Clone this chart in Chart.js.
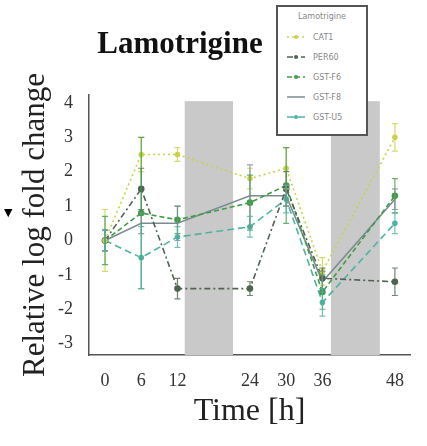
<!DOCTYPE html>
<html>
<head>
<meta charset="utf-8">
<script src="https://cdn.jsdelivr.net/npm/chart.js@4"></script>
<style>
body{margin:0;background:#fff;}
#wrap{position:relative;width:427px;height:446px;overflow:hidden;}
#title{position:absolute;left:0;width:360px;top:25px;text-align:center;font:bold 31px "Liberation Serif",serif;line-height:36px;color:#111;}
#arrow{position:absolute;left:4px;top:206px;font:11px "DejaVu Sans",sans-serif;color:#000;}
#legend{position:absolute;left:276px;top:5px;width:88px;height:127px;border:2px solid #555;background:#fff;font:8px "DejaVu Sans",sans-serif;color:#888;}
#legend .lt{text-align:center;margin-top:5px;margin-bottom:6px;}
#legend .row{height:20px;display:flex;align-items:center;padding-left:9px;}
#legend svg{margin-right:8px;}
</style>
</head>
<body>
<div id="wrap">
  <canvas id="chart" width="427" height="446"></canvas>
  <div id="title">Lamotrigine</div>
  <div id="arrow">▼</div>
  <div id="legend"><div class="lt">Lamotrigine</div></div>
</div>
<script>
// time points (h)
var hours = [0, 6, 12, 24, 30, 36, 48];
var yTicks = [-3, -2, -1, 0, 1, 2, 3, 4];

var genes = ['CAT1', 'PER60', 'GST-F6', 'GST-F8', 'GST-U5'];
var cat1 = [0, 2.5, 2.5, 1.8, 2.1, -0.9, 3.0];
var per = [0, 1.5, -1.4, -1.4, 1.5, -1.1, -1.2];
var gstF6 = [0, 0.8, 0.6, 1.1, 1.6, -1.5, 1.3];
var gstF8 = [0, 0.5, 0.5, 1.3, 1.3, -1.2, 1.2];
var gstU5 = [0, -0.5, 0.1, 0.4, 1.2, -1.8, 0.5];

var cat1Err = [0.9, 0.5, 0.2, 0.3, 0.6, 0.4, 0.4];
var perErr = [0.3, 0.6, 0.3, 0.2, 0.5, 0.3, 0.4];
var gstF6Err = [0.7, 2.2, 0.4, 0.8, 1.1, 0.5, 0.5];
var gstF8Err = [0.3, 0.3, 0.5, 0.9, 0.3, 0.3, 0.3];
var gstU5Err = [0.3, 0.9, 0.3, 0.3, 0.4, 0.4, 0.3];

// dark periods (h)
var darkStart = [13.2, 37.4];
var darkEnd = [21.2, 45.5];
var darkTop = 4.05;

var series = [cat1, per, gstF6, gstF8, gstU5];
var errs = [cat1Err, perErr, gstF6Err, gstF8Err, gstU5Err];
var colors = ['#c9d24a', '#4f6452', '#3f9e45', '#7d8b92', '#4fb3a3'];
var dashes = [[2, 3], [6, 3, 2, 3], [5, 3], [], [7, 4]];
var radius = [2, 2.5, 2.5, 0, 2];

var datasets = series.map(function(vals, i){
    return {
        label: genes[i],
        data: vals.map(function(v, j){ return {x: hours[j], y: v}; }),
        borderColor: colors[i],
        backgroundColor: colors[i],
        borderDash: dashes[i],
        borderWidth: 1.6,
        pointRadius: radius[i],
        pointStyle: 'circle',
        errors: errs[i]
    };
});

const shadePlugin = {
    id: 'shade',
    beforeDatasetsDraw(chart){
        const {ctx, chartArea, scales} = chart;
        ctx.save();
        ctx.fillStyle = '#c9c9c9';
        for (let k = 0; k < darkStart.length; k++){
            let x1 = scales.x.getPixelForValue(darkStart[k]);
            let x2 = scales.x.getPixelForValue(darkEnd[k]);
            let y1 = scales.y.getPixelForValue(darkTop);
            ctx.fillRect(x1, y1, x2 - x1, chartArea.bottom - y1);
        }
        ctx.restore();
    },
    afterDatasetsDraw(chart){ // error bars
        const {ctx, scales} = chart;
        ctx.save();
        chart.data.datasets.forEach(function(ds){
            ctx.strokeStyle = ds.borderColor;
            ctx.lineWidth = 1.2;
            ctx.globalAlpha = 0.8;
            ds.data.forEach(function(p, j){
                let e = ds.errors[j];
                let px = scales.x.getPixelForValue(p.x);
                let top = scales.y.getPixelForValue(p.y + e);
                let bot = scales.y.getPixelForValue(p.y - e);
                ctx.beginPath();
                ctx.moveTo(px, top); ctx.lineTo(px, bot);
                ctx.moveTo(px - 3, top); ctx.lineTo(px + 3, top);
                ctx.moveTo(px - 3, bot); ctx.lineTo(px + 3, bot);
                ctx.stroke();
            });
        });
        ctx.restore();
    }
};

const serif = '"Liberation Serif", "Times New Roman", serif';

new Chart(document.getElementById('chart').getContext('2d'), {
    type: 'line',
    data: {datasets: datasets},
    options: {
        responsive: false,
        animation: false,
        layout: {padding: {left: 17, right: 17, top: 95, bottom: 15}},
        plugins: {legend: {display: false}, tooltip: {enabled: false}},
        scales: {
            x: {
                type: 'linear',
                min: -2.65,
                max: 50.5,
                afterBuildTicks: function(s){ s.ticks = hours.map(function(v){ return {value: v}; }); },
                afterFit: function(s){ s.height = 76; },
                grid: {display: false, drawTicks: false},
                border: {display: true, color: '#555', width: 1.5},
                ticks: {padding: 15, color: '#333', font: {family: serif, size: 18}, maxRotation: 0, autoSkip: false},
                title: {display: true, text: 'Time [h]', color: '#222', font: {family: serif, size: 32}, padding: 0}
            },
            y: {
                min: -3.33,
                max: 4.23,
                afterBuildTicks: function(s){ s.ticks = yTicks.map(function(v){ return {value: v}; }); },
                afterFit: function(s){ s.width = 72; },
                grid: {display: false, drawTicks: false},
                border: {display: true, color: '#555', width: 1.5},
                ticks: {padding: 16, color: '#333', font: {family: serif, size: 18}},
                title: {display: true, text: 'Relative log fold change', color: '#222', font: {family: serif, size: 31}, padding: 0}
            }
        }
    },
    plugins: [shadePlugin]
});

// legend box
var leg = document.getElementById('legend');
genes.forEach(function(g, i){
    var row = document.createElement('div');
    row.className = 'row';
    var dash = dashes[i].length ? ' stroke-dasharray="' + dashes[i].join(',') + '"' : '';
    var dot = radius[i] ? '<circle cx="9" cy="4" r="2" fill="' + colors[i] + '"/>' : '';
    row.innerHTML = '<svg width="18" height="8"><line x1="0" y1="4" x2="18" y2="4" stroke="' + colors[i] + '" stroke-width="1.5"' + dash + '/>' + dot + '</svg><span>' + g + '</span>';
    leg.appendChild(row);
});
</script>
</body>
</html>
